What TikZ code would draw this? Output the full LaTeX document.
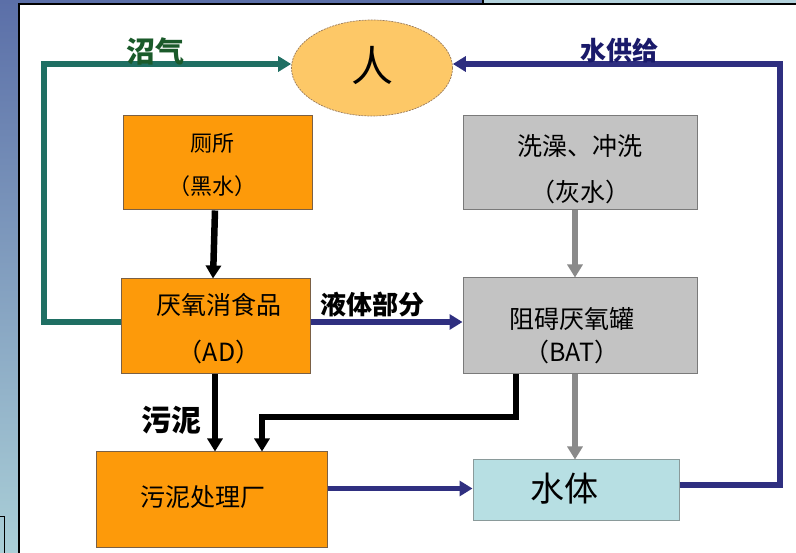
\documentclass[tikz,border=0pt]{standalone}
\usepackage{fontspec}
\newfontfamily\cjk{Noto Sans CJK SC}
\usetikzlibrary{arrows.meta,shapes.geometric}
\definecolor{bgdark}{HTML}{5B6FA8}
\definecolor{bglight}{HTML}{AACFD7}
\definecolor{bgtop}{HTML}{B3D2DC}
\definecolor{orfill}{HTML}{FD9A0A}
\definecolor{ordraw}{HTML}{7A6045}
\definecolor{grfill}{HTML}{C3C3C3}
\definecolor{grdraw}{HTML}{7A7A7A}
\definecolor{wafill}{HTML}{B7DFE3}
\definecolor{wadraw}{HTML}{8A9A9A}
\definecolor{elfill}{HTML}{FDC867}
\definecolor{eldraw}{HTML}{9A7A5A}
\definecolor{tealc}{HTML}{1F6F63}
\definecolor{navyc}{HTML}{2F2F80}
\definecolor{grayc}{HTML}{8A8A8A}
\definecolor{greenlab}{HTML}{1A5A2A}
\definecolor{navylab}{HTML}{1A1A6A}
\tikzset{
  orbox/.style={draw=ordraw,line width=1pt,fill=orfill,rectangle,inner sep=0pt},
  grbox/.style={draw=grdraw,line width=1pt,fill=grfill,rectangle,inner sep=0pt},
  wabox/.style={draw=wadraw,line width=1pt,fill=wafill,rectangle,inner sep=0pt},
  txt/.style={inner sep=0pt,align=center,font=\cjk},
  arr/.style={line width=5.5pt,-{Triangle[length=13pt,width=15pt]}},
  lab/.style={inner sep=0pt,font=\cjk\bfseries}
}
\begin{document}
\begin{tikzpicture}[x=1pt,y=-1pt]
\useasboundingbox (0,0) rectangle (796,553);
% background
\shade[top color=bgdark,bottom color=bglight] (0,0) rectangle (19,553);
\fill[bgdark] (0,0) rectangle (483,4);
\fill[bgtop] (483,0) rectangle (796,4);
\fill[white] (19,4) rectangle (796,553);
\draw[line width=1.5pt] (19,553) -- (19,4) -- (796,4);
\draw[line width=1.2pt] (483,0) -- (483,4);
\draw[line width=1pt] (0,516) -- (4.5,516) -- (4.5,553);
% nodes
\node[ellipse,fill=elfill,draw=eldraw,dash pattern=on 2pt off 1pt,line width=0.7pt,minimum width=161pt,minimum height=96pt,inner sep=0pt] (person) at (372,68) {};
\node[txt,font=\cjk\fontsize{42}{42}\selectfont] (persont) at (372,66) {人};
\node[orbox,minimum width=189pt,minimum height=94pt] (toilet) at (217.5,163) {};
\node[txt,font=\cjk\fontsize{22}{43}\selectfont] (toilett) at (212,165) {厕所\\（黑水）};
\node[grbox,minimum width=234pt,minimum height=94pt] (wash) at (580,163) {};
\node[txt,font=\cjk\fontsize{25}{46}\selectfont] (washt) at (580,169) {洗澡、冲洗\\（灰水）};
\node[orbox,minimum width=189pt,minimum height=95pt] (ad) at (215.5,326.5) {};
\node[txt,font=\cjk\fontsize{25}{47}\selectfont] (adt) at (219,328.5) {厌氧消食品\\（AD）};
\node[grbox,minimum width=234pt,minimum height=96pt] (bat) at (580,326) {};
\node[txt,font=\cjk\fontsize{25}{33}\selectfont] (batt) at (572,336) {阻碍厌氧罐\\（BAT）};
\node[orbox,minimum width=231pt,minimum height=95pt] (sludge) at (211.5,499.5) {};
\node[txt,font=\cjk\fontsize{25}{25}\selectfont] (sludget) at (203,497) {污泥处理厂};
\node[wabox,minimum width=206pt,minimum height=60pt] (water) at (576,490) {};
\node[txt,font=\cjk\fontsize{34}{34}\selectfont] (watert) at (564,489) {水体};
% connectors
\coordinate (bgA) at (44,322);
\coordinate (bgB) at (44,64);
\draw[arr,tealc] ([yshift=4.5pt]ad.west) -- (bgA) -- (bgB) -- ([yshift=4pt]person.west);
\coordinate (wsA) at (780,485);
\coordinate (wsB) at (780,64);
\draw[arr,navyc] ([yshift=5pt]water.east) -- (wsA) -- (wsB) -- ([yshift=4pt]person.east);
\draw[arr,line width=6.5pt,black] ([xshift=-2.5pt]toilet.south) -- ([xshift=-2.5pt]ad.north);
\draw[arr,line width=6.5pt,black] ([xshift=-0.5pt]ad.south) -- ([xshift=3.5pt]sludge.north);
\draw[arr,grayc] ([xshift=-5pt]wash.south) -- ([xshift=-5pt]bat.north);
\draw[arr,grayc] ([xshift=-5pt]bat.south) -- ([xshift=-1pt]water.north);
\draw[arr,navyc] ([yshift=4.5pt]ad.east) -- ([yshift=4pt]bat.west);
\coordinate (bsA) at (516,417);
\coordinate (bsB) at (262,417);
\draw[arr,line width=6.5pt,black] ([xshift=-64pt]bat.south) -- (bsA) -- (bsB) -- (bsB |- sludge.north);
\draw[arr,navyc] ([yshift=11pt]sludge.east) -- ([yshift=1.5pt]water.west);
% labels
\node[lab,greenlab,font=\cjk\bfseries\fontsize{29}{29}\selectfont] (lbg) at (155,51) {沼气};
\node[lab,navylab,font=\cjk\bfseries\fontsize{26}{26}\selectfont] (lws) at (619,51) {水供给};
\node[lab,font=\cjk\bfseries\fontsize{26}{26}\selectfont] (lliq) at (372,305) {液体部分};
\node[lab,font=\cjk\bfseries\fontsize{30}{30}\selectfont] (lsl) at (171,420) {污泥};
\end{tikzpicture}
\end{document}
